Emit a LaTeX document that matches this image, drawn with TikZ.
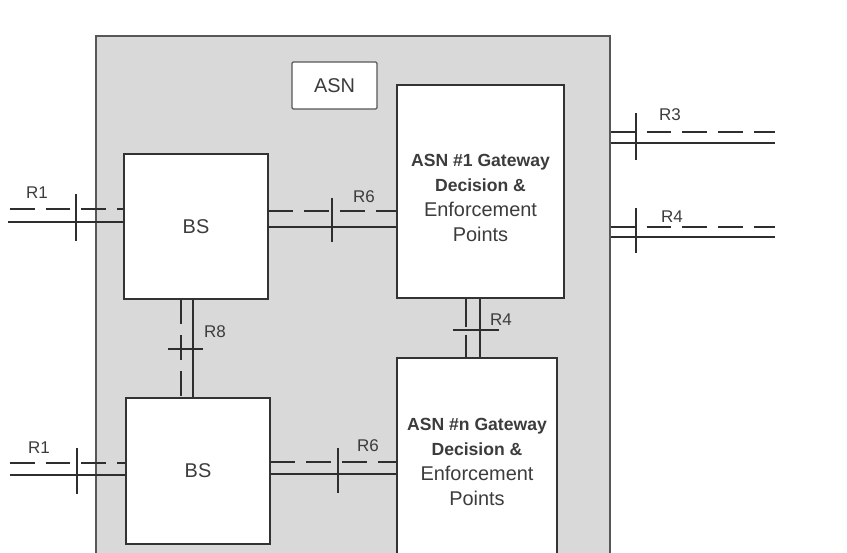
\documentclass[tikz,border=0pt]{standalone}
\usepackage{fontspec}
\setmainfont{Liberation Sans}
\definecolor{asngray}{HTML}{D9D9D9}
\definecolor{asnedge}{HTML}{575757}
\definecolor{boxedge}{HTML}{333333}
\definecolor{labeltext}{HTML}{3C3C3C}
\definecolor{linkdark}{HTML}{2E2E2E}
\newcommand{\gwbold}[1]{{\fontsize{15}{21.3}\selectfont\bfseries #1}}

\begin{document}
\begin{tikzpicture}[
  x=0.3mm,
  y=-0.3mm,
  asnarea/.style={fill=asngray,draw=asnedge,line width=1.3pt,inner sep=0pt},
  unit/.style={draw=boxedge,fill=white,line width=1.1pt,inner sep=0pt,text=labeltext,font=\fontsize{17}{20}\selectfont},
  gateway/.style={unit,align=center,font=\fontsize{17}{21.3}\selectfont},
  solidlink/.style={draw=linkdark,line width=1pt},
  dashlink/.style={draw=linkdark,line width=1pt,dash pattern=on 21pt off 9.5pt},
  tick/.style={draw=linkdark,line width=1pt},
  reflabel/.style={text=labeltext,font=\fontsize{14.5}{16}\selectfont,inner sep=0pt}
]
  % Page frame, the ASN area runs past the bottom edge.
  \useasboundingbox (0,0) rectangle (847,553);
  \clip (0,0) rectangle (847,553);

  \node[asnarea,minimum width=154.2mm,minimum height=169.2mm] (ASNarea) at (353,318) {};

  % Boxes inside the ASN.
  \node[unit,draw=asnedge,rounded corners=1pt,minimum width=25.5mm,minimum height=14.1mm] (ASNtag) at (334.5,85.5) {ASN};
  \node[unit,minimum width=43.2mm,minimum height=43.5mm] (BS1) at (196,226.5) {BS};
  \node[unit,minimum width=43.2mm,minimum height=43.8mm] (BS2) at (198,471) {BS};
  \node[gateway,minimum width=50.1mm,minimum height=63.9mm] (GW1) at (480.5,191.5)
    {\gwbold{\rule{0pt}{21pt}ASN \#1 Gateway}\\ \gwbold{Decision \&}\\ Enforcement\\ Points};
  \node[gateway,minimum width=48mm,minimum height=62.4mm] (GWn) at (477,462)
    {\gwbold{ASN \#n Gateway}\\ \gwbold{Decision \&}\\ Enforcement\\ Points};

  % R1 to the upper BS.
  \coordinate (R1adash) at (10,209);
  \coordinate (R1aline) at (8,222);
  \draw[dashlink] (R1adash) -- (R1adash -| BS1.west);
  \draw[solidlink] (R1aline) -- (R1aline -| BS1.west);
  \draw[tick] (76,194) -- (76,241);
  \node[reflabel] (lR1a) at (37,193) {R1};

  % R1 to the lower BS.
  \coordinate (R1bdash) at (10,463);
  \coordinate (R1bline) at (10,475);
  \draw[dashlink] (R1bdash) -- (R1bdash -| BS2.west);
  \draw[solidlink] (R1bline) -- (R1bline -| BS2.west);
  \draw[tick] (77,448) -- (77,494);
  \node[reflabel] (lR1b) at (39,448) {R1};

  % R6 between BS and gateway.
  \coordinate (R6adash) at (300,211);
  \coordinate (R6aline) at (300,227);
  \draw[dashlink] (BS1.east |- R6adash) -- (GW1.west |- R6adash);
  \draw[solidlink] (BS1.east |- R6aline) -- (GW1.west |- R6aline);
  \draw[tick] (332,198) -- (332,242);
  \node[reflabel] (lR6a) at (364,197) {R6};

  \coordinate (R6bdash) at (300,462);
  \coordinate (R6bline) at (300,474);
  \draw[dashlink] (BS2.east |- R6bdash) -- (GWn.west |- R6bdash);
  \draw[solidlink] (BS2.east |- R6bline) -- (GWn.west |- R6bline);
  \draw[tick] (338,448) -- (338,493);
  \node[reflabel] (lR6b) at (368,446) {R6};

  % R8 between the two BS.
  \coordinate (R8dash) at (181,349);
  \coordinate (R8line) at (193,349);
  \draw[dashlink] (BS1.south -| R8dash) -- (BS2.north -| R8dash);
  \draw[solidlink] (BS1.south -| R8line) -- (BS2.north -| R8line);
  \draw[tick] (168,349) -- (203,349);
  \node[reflabel] (lR8) at (215,332) {R8};

  % R4 between the gateways.
  \coordinate (R4mdash) at (466,330);
  \coordinate (R4mline) at (480,330);
  \draw[solidlink,dash pattern=on 24pt off 7pt] (GW1.south -| R4mdash) -- (GWn.north -| R4mdash);
  \draw[solidlink] (GW1.south -| R4mline) -- (GWn.north -| R4mline);
  \draw[tick] (453,330) -- (499,330);
  \node[reflabel] (lR4m) at (501,320) {R4};

  % R3 and R4 leaving the ASN.
  \coordinate (R3dash) at (775,132);
  \coordinate (R3line) at (775,143);
  \draw[dashlink] (ASNarea.east |- R3dash) -- (R3dash);
  \draw[solidlink] (ASNarea.east |- R3line) -- (R3line);
  \draw[tick] (636,113) -- (636,160);
  \node[reflabel] (lR3) at (670,115) {R3};

  \coordinate (R4dash) at (775,227);
  \coordinate (R4line) at (775,237);
  \draw[dashlink] (ASNarea.east |- R4dash) -- (R4dash);
  \draw[solidlink] (ASNarea.east |- R4line) -- (R4line);
  \draw[tick] (636,208) -- (636,253);
  \node[reflabel] (lR4) at (672,217) {R4};
\end{tikzpicture}
\end{document}
